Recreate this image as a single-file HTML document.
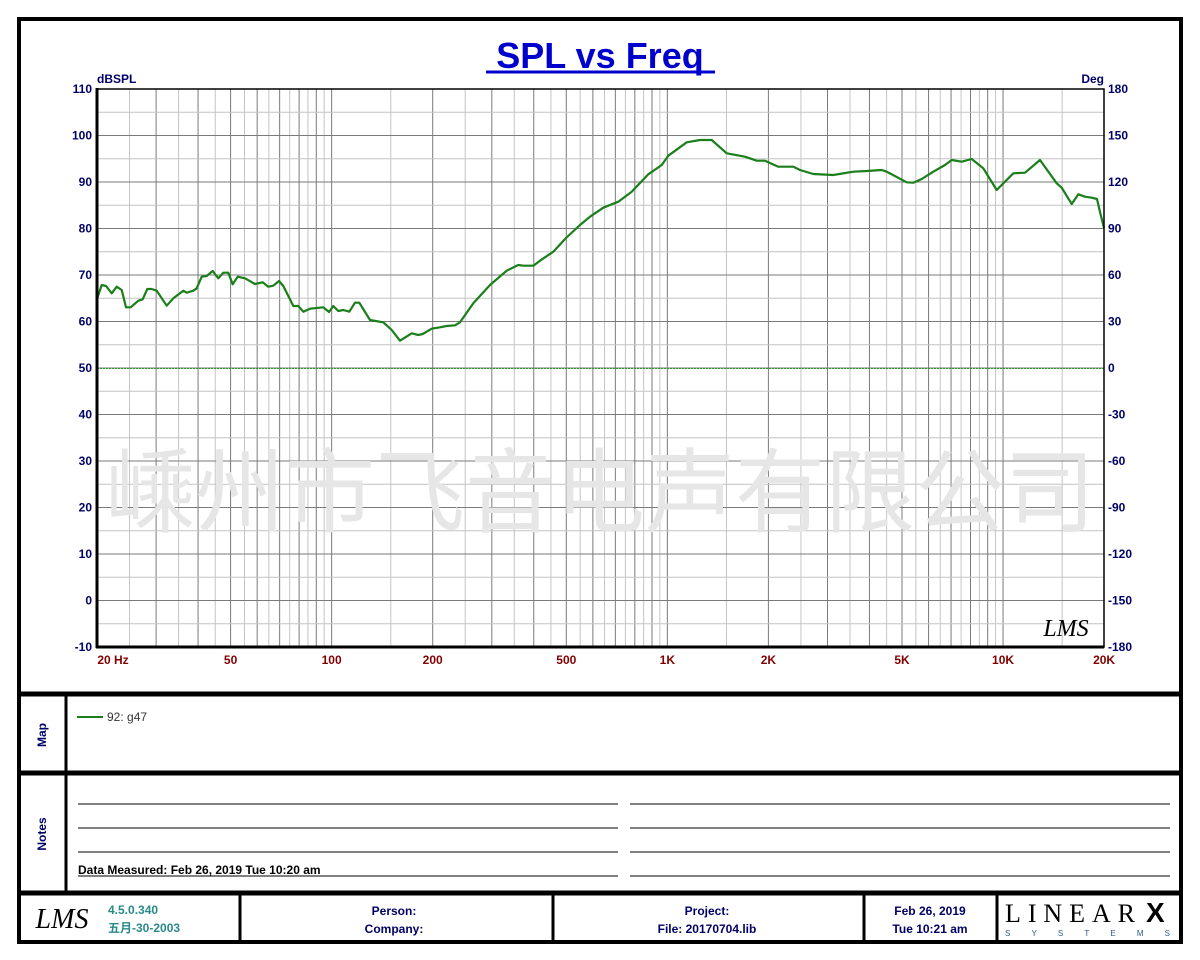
<!DOCTYPE html>
<html><head><meta charset="utf-8"><style>
html,body{margin:0;padding:0;background:#fff;}
svg{display:block;font-family:"Liberation Sans",Arial,sans-serif;}
</style></head><body>
<svg id="s" width="1200" height="960" xmlns="http://www.w3.org/2000/svg">
<rect x="0" y="0" width="1200" height="960" fill="#fff"/>
<g id="grid"></g>
<text x="600" y="500" text-anchor="middle" dominant-baseline="middle" font-family="'Noto Sans CJK SC',sans-serif" font-size="92" fill="#e6e6e6" textLength="990" lengthAdjust="spacingAndGlyphs">嵊州市飞音电声有限公司</text>
<line x1="97" y1="368.5" x2="1104" y2="368.5" stroke="#2a9a2a" stroke-width="1" stroke-dasharray="2,1"/>
<polyline id="curve" fill="none" stroke="#1a7f1a" stroke-width="2.2" stroke-linejoin="round"/>
<rect x="97" y="89" width="1007" height="558" fill="none" stroke="#000" stroke-width="1.5"/>
<line x1="97" y1="88" x2="97" y2="648" stroke="#000" stroke-width="3"/>
<line x1="96" y1="647" x2="1104" y2="647" stroke="#000" stroke-width="3"/>
<text x="600" y="68" text-anchor="middle" font-size="36" font-weight="bold" fill="#0000cc">SPL vs Freq</text>
<line x1="486" y1="72" x2="715" y2="72" stroke="#0000cc" stroke-width="3"/>
<text x="97" y="83" font-size="12" font-weight="bold" fill="#000066">dBSPL</text>
<text x="1104" y="83" font-size="12" font-weight="bold" fill="#000066" text-anchor="end">Deg</text>
<g id="ylab" font-size="12" font-weight="bold" fill="#000066"></g>
<g id="xlab" font-size="12" font-weight="bold" fill="#800000" text-anchor="middle"></g>
<text x="1066" y="636" text-anchor="middle" font-family="'Liberation Serif',serif" font-style="italic" font-size="24" fill="#000">LMS</text>
<!-- frame -->
<rect x="19" y="19" width="1162" height="923" fill="none" stroke="#000" stroke-width="4"/>
<line x1="17" y1="694" x2="1183" y2="694" stroke="#000" stroke-width="5"/>
<line x1="17" y1="773" x2="1183" y2="773" stroke="#000" stroke-width="5"/>
<line x1="17" y1="893" x2="1183" y2="893" stroke="#000" stroke-width="5"/>
<line x1="66" y1="694" x2="66" y2="893" stroke="#000" stroke-width="3"/>
<line x1="240" y1="893" x2="240" y2="942" stroke="#000" stroke-width="3"/>
<line x1="553" y1="893" x2="553" y2="942" stroke="#000" stroke-width="3"/>
<line x1="864" y1="893" x2="864" y2="942" stroke="#000" stroke-width="3"/>
<line x1="997" y1="893" x2="997" y2="942" stroke="#000" stroke-width="3"/>
<text transform="translate(46,735) rotate(-90)" text-anchor="middle" font-size="12" font-weight="bold" fill="#000066">Map</text>
<text transform="translate(46,834) rotate(-90)" text-anchor="middle" font-size="12" font-weight="bold" fill="#000066">Notes</text>
<line x1="77" y1="717" x2="103" y2="717" stroke="#1a7f1a" stroke-width="2"/>
<text x="107" y="721" font-size="12" fill="#333">92: g47</text>
<g stroke="#000" stroke-width="1">
<line x1="78" y1="804" x2="618" y2="804"/><line x1="630" y1="804" x2="1170" y2="804"/>
<line x1="78" y1="828" x2="618" y2="828"/><line x1="630" y1="828" x2="1170" y2="828"/>
<line x1="78" y1="852" x2="618" y2="852"/><line x1="630" y1="852" x2="1170" y2="852"/>
<line x1="78" y1="876" x2="618" y2="876"/><line x1="630" y1="876" x2="1170" y2="876"/>
</g>
<text x="78" y="874" font-size="12" font-weight="bold" fill="#000">Data Measured: Feb 26, 2019  Tue 10:20 am</text>
<text x="62" y="928" text-anchor="middle" font-family="'Liberation Serif',serif" font-style="italic" font-size="28" fill="#000">LMS</text>
<text x="108" y="914" font-size="12" font-weight="bold" fill="#2a8a8a">4.5.0.340</text>
<text x="108" y="932" font-size="12" font-weight="bold" fill="#2a8a8a" font-family="'Liberation Sans','Noto Sans CJK SC',sans-serif">五月-30-2003</text>
<text x="394" y="915" text-anchor="middle" font-size="12" font-weight="bold" fill="#000066">Person:</text>
<text x="394" y="933" text-anchor="middle" font-size="12" font-weight="bold" fill="#000066">Company:</text>
<text x="707" y="915" text-anchor="middle" font-size="12" font-weight="bold" fill="#000066">Project:</text>
<text x="707" y="933" text-anchor="middle" font-size="12" font-weight="bold" fill="#000066">File: 20170704.lib</text>
<text x="930" y="915" text-anchor="middle" font-size="12" font-weight="bold" fill="#000066">Feb 26, 2019</text>
<text x="930" y="933" text-anchor="middle" font-size="12" font-weight="bold" fill="#000066">Tue 10:21 am</text>
<text x="1005" y="922" font-family="'Liberation Serif',serif" font-size="26" fill="#000" textLength="130" lengthAdjust="spacing">LINEAR</text>
<text x="1146" y="922" font-size="28" font-weight="bold" fill="#000">X</text>
<text x="1005" y="936" font-size="8" fill="#2a5a8a" textLength="165" lengthAdjust="spacing">SYSTEMS</text>
</svg>
<script>
var NS="http://www.w3.org/2000/svg";
function el(p,t,a,txt){var e=document.createElementNS(NS,t);for(var k in a)e.setAttribute(k,a[k]);if(txt!==undefined)e.textContent=txt;p.appendChild(e);return e;}
var g=document.getElementById('grid');
function fx(f){return 97+335.7*Math.log10(f/20);}
function fy(d){return 89+(110-d)*558/120;}
// vertical
var decs=[10,100,1000,10000];
decs.forEach(function(d){for(var m=1;m<10;m+=0.5){var f=m*d;if(f<=20||f>=20000)continue;var major=(m%1===0);el(g,'line',{x1:fx(f),y1:89,x2:fx(f),y2:647,stroke:major?'#7a7a7a':'#c4c4c4','stroke-width':1});}});
// horizontal
for(var d=-10;d<=110;d+=5){if(d===-10||d===110)continue;var major=(d%10===0);el(g,'line',{x1:97,y1:fy(d),x2:1104,y2:fy(d),stroke:major?'#7a7a7a':'#c4c4c4','stroke-width':1});}
var yl=document.getElementById('ylab');
for(var i=0;i<=12;i++){var d=110-i*10;var y=fy(d)+4;el(yl,'text',{x:92,y:y,'text-anchor':'end'},String(d));el(yl,'text',{x:1108,y:y},String(180-i*30));}
var xl=document.getElementById('xlab');
[[20,'20  Hz',113],[50,'50'],[100,'100'],[200,'200'],[500,'500'],[1000,'1K'],[2000,'2K'],[5000,'5K'],[10000,'10K'],[20000,'20K']].forEach(function(a){el(xl,'text',{x:a[2]||fx(a[0]),y:664},a[1]);});
var pts=[[97,299],[101.7,285],[106,286],[111.7,293.3],[116.7,286.7],[121.7,290],[126,307.3],[130.7,307.3],[138.3,300.7],[142.7,299.3],[147.3,289],[151.7,289],[156.7,290.7],[166.7,305.7],[173.3,298.3],[183.3,290.7],[186.7,292.7],[193.3,290.7],[196.7,288.3],[201.7,276.7],[206.7,276],[212.7,271],[218.3,278.3],[223.3,272.7],[228.3,272.7],[232.7,284.3],[237.7,276.7],[245,278.3],[255,284],[262.7,282.3],[268.3,286.7],[273.3,285.7],[279,281],[283.3,286],[293.3,306],[298.3,306],[303.3,311.7],[310,308.7],[323.3,307.3],[329,312],[333.3,306],[338.3,311],[343.3,310],[349.3,311.7],[355,302.7],[359.3,302.7],[370,320],[383.3,322.3],[391.7,330],[400,340.7],[411.7,333.3],[418.3,335],[422.7,334],[431.7,328.7],[440,327.3],[446.7,326],[455,325.3],[460,322.3],[473.3,303.3],[490,285],[506.7,270.7],[518.3,265],[523.3,265.7],[533.3,265.7],[540,260.7],[553.3,251.7],[566,238],[580,225],[590,216.7],[603.3,207.7],[618.3,201.7],[631.7,191.7],[648.3,174.3],[661.7,165],[668.3,155.7],[686.7,142.3],[700,140],[711.7,140],[726.7,153.3],[745,156.7],[756.7,160.7],[765,160.7],[778.3,166.7],[793.3,166.7],[800,170],[813.3,174],[833.3,175],[853.3,171.7],[866.7,171],[881.7,170],[886.7,171.7],[906.7,182.3],[913.3,182.7],[921.7,179],[933.3,171.7],[945,165],[951.7,160],[961.7,161.7],[971.7,159],[983.3,168.3],[996.7,190],[1013.3,173.3],[1025,172.7],[1040,160],[1056.7,183.3],[1061.7,187.7],[1071.7,204],[1078.3,194.3],[1085,196.7],[1091.7,197.7],[1097,199],[1100,212],[1104,228]];
document.getElementById('curve').setAttribute('points',pts.map(function(p){return p[0]+','+p[1];}).join(' '));
</script>
</body></html>
